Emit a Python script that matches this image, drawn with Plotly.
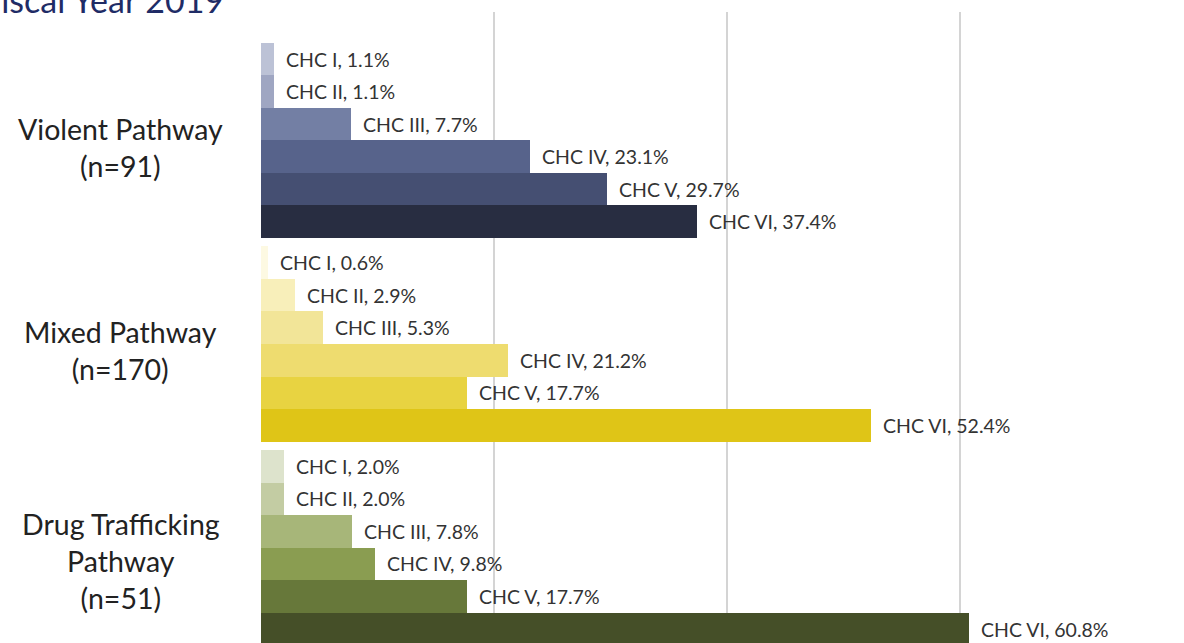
import plotly.graph_objects as go

# ---- data ----
pathways = ["Violent Pathway<br>(n=91)", "Mixed Pathway<br>(n=170)", "Drug Trafficking<br>Pathway<br>(n=51)"]
chc_levels = ["CHC I", "CHC II", "CHC III", "CHC IV", "CHC V", "CHC VI"]
violent_pct = [1.1, 1.1, 7.7, 23.1, 29.7, 37.4]
mixed_pct = [0.6, 2.9, 5.3, 21.2, 17.7, 52.4]
drug_pct = [2.0, 2.0, 7.8, 9.8, 17.7, 60.8]
title_text = "Fiscal Year 2019"

# ---- styles ----
series = [violent_pct, mixed_pct, drug_pct]
colors = [
    ["#bcc2d6", "#9fa6c2", "#737fa4", "#57638b", "#454f72", "#282d41"],
    ["#fdf9e2", "#f8efba", "#f2e598", "#eedc6f", "#e8d341", "#dfc517"],
    ["#dde3cc", "#c3cca3", "#a7b679", "#8a9d51", "#67783a", "#454f28"],
]
group_step = 6.26
label_yshift = [-7, -6, -13]
FONT = "Lato, 'Open Sans', sans-serif"

fig = go.Figure()
annotations = []
for g, (vals, cols) in enumerate(zip(series, colors)):
    ys = [g * group_step + i for i in range(len(vals))]
    fig.add_trace(go.Bar(
        x=vals, y=ys, orientation="h", width=1.0,
        marker=dict(color=cols, line=dict(width=0)),
        hoverinfo="skip", showlegend=False,
    ))
    for lvl, v, y in zip(chc_levels, vals, ys):
        annotations.append(dict(
            x=v, y=y, xref="x", yref="y", text=f"{lvl}, {v:.1f}%",
            showarrow=False, xanchor="left", yanchor="middle", xshift=10,
            font=dict(family=FONT, size=19.5, color="#333333"),
        ))
    annotations.append(dict(
        x=-0.1517, xref="paper", y=g * group_step + 2.5, yref="y",
        text=pathways[g], showarrow=False, xanchor="center", yanchor="middle",
        align="center", yshift=label_yshift[g],
        font=dict(family=FONT, size=28.5, color="#222222"),
    ))

annotations.append(dict(
    x=(226 - 261) / 923, xref="paper", y=1, yref="paper", text=title_text,
    showarrow=False, xanchor="right", yanchor="bottom", yshift=-10,
    font=dict(family=FONT, size=34, color="#1f2c66"),
))

fig.update_layout(
    width=1184, height=643,
    margin=dict(l=261, r=0, t=12, b=0),
    paper_bgcolor="white", plot_bgcolor="white",
    bargap=0,
    annotations=annotations,
    xaxis=dict(range=[0, (1184 - 261) / 11.65], tickvals=[20, 40, 60],
               showgrid=True, gridcolor="#d4d4d4", gridwidth=1.5,
               zeroline=False, showticklabels=False, showline=False),
    yaxis=dict(range=[17.95, -1.445], showgrid=False, zeroline=False,
               showticklabels=False, showline=False),
)

fig.write_html("out.html", config={"displayModeBar": False},
               post_script="document.body.style.margin='0';document.body.style.overflow='hidden';")
